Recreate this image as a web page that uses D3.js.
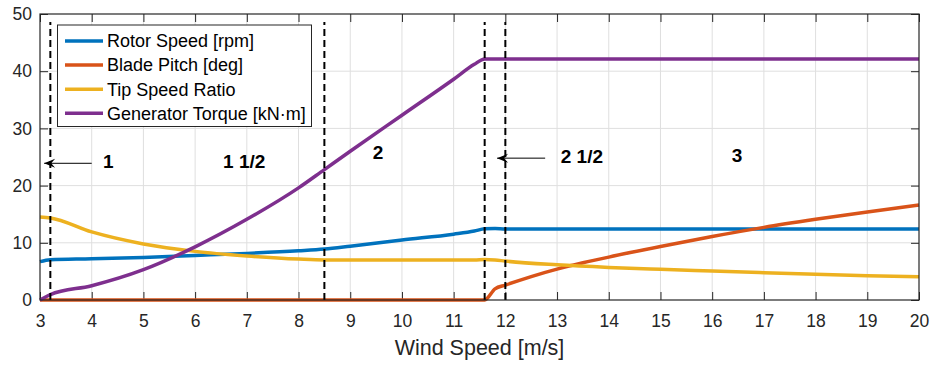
<!DOCTYPE html>
<html>
<head>
<meta charset="utf-8">
<script src="https://cdn.jsdelivr.net/npm/d3@7"></script>
<style>
  body { margin: 0; background: #fff; }
  svg { display: block; font-family: "Liberation Sans", Arial, sans-serif; }
</style>
</head>
<body>
<div id="chart"></div>
<script>
// data
const rotorX = [3, 3.2, 4, 5, 6, 7, 8, 8.5, 9, 10, 11, 11.4, 11.6, 11.8, 12, 13, 20];
const rotorY = [6.7, 7.05, 7.2, 7.45, 7.8, 8.15, 8.6, 8.9, 9.4, 10.5, 11.5, 12.05, 12.45, 12.5, 12.4, 12.4, 12.4];

const pitchX = [3, 11.6, 11.8, 12, 12.5, 13, 13.5, 14, 15, 16, 17, 18, 19, 20];
const pitchY = [0, 0, 1.95, 2.6, 4.1, 5.4, 6.5, 7.5, 9.35, 11.1, 12.7, 14.1, 15.4, 16.6];

const tsrX = [3, 3.2, 4, 5, 6, 7, 8, 8.5, 11.4, 11.6, 11.8, 12, 13, 14, 15, 16, 17, 18, 19, 20];
const tsrY = [14.5, 14.35, 11.9, 9.8, 8.5, 7.7, 7.15, 7.0, 7.0, 7.1, 7.0, 6.8, 6.15, 5.7, 5.36, 5.07, 4.78, 4.49, 4.25, 4.08];

const torqueX = [3, 3.2, 4, 5, 6, 7, 8, 8.5, 9, 10, 11, 11.4, 11.6, 20];
const torqueY = [0, 0.95, 2.5, 5.3, 9.3, 14.1, 19.6, 22.8, 26.0, 32.3, 38.6, 41.2, 42.15, 42.15];

const seriesNames = ['Rotor Speed [rpm]', 'Blade Pitch [deg]', 'Tip Speed Ratio', 'Generator Torque [kN\u00b7m]'];
const seriesColors = ['#0072BD', '#D95319', '#EDB120', '#7E2F8E'];

const xTicks = d3.range(3, 21);
const yTicks = [0, 10, 20, 30, 40, 50];

// region boundaries and labels
const regionLines = [3.2, 8.5, 11.6, 12.0];
const regionLabels = [
  { text: '1', x: 4.32, y: 23.1 },
  { text: '1 1/2', x: 6.95, y: 23.1 },
  { text: '2', x: 9.54, y: 24.65 },
  { text: '2 1/2', x: 13.48, y: 23.95 },
  { text: '3', x: 16.48, y: 24.1 }
];
const arrows = [
  { x1: 4.0, x2: 3.08, y: 23.9 },
  { x1: 12.77, x2: 11.84, y: 24.8 }
];

const width = 932, height = 365;
const margin = { left: 40, right: 13, top: 14, bottom: 65 };

const svg = d3.select('#chart')
  .append('svg')
  .attr('width', width)
  .attr('height', height);

const x = d3.scaleLinear().domain([3, 20]).range([margin.left, width - margin.right]);
const y = d3.scaleLinear().domain([0, 50]).range([height - margin.bottom, margin.top]);

// 网格
const grid = svg.append('g').attr('class', 'grid');
grid.selectAll('.gx')
  .data(xTicks.slice(1, -1))
  .enter()
  .append('line')
  .attr('x1', d => x(d)).attr('x2', d => x(d))
  .attr('y1', y(0)).attr('y2', y(50))
  .attr('stroke', '#dfdfdf')
  .attr('stroke-width', 1);
grid.selectAll('.gy')
  .data(yTicks.slice(1, -1))
  .enter()
  .append('line')
  .attr('x1', x(3)).attr('x2', x(20))
  .attr('y1', d => y(d)).attr('y2', d => y(d))
  .attr('stroke', '#dfdfdf')
  .attr('stroke-width', 1);

// axes with inward ticks
const styleAxis = g => {
  g.select('.domain').remove();
  g.attr('font-family', '"Liberation Sans", Arial, sans-serif')
    .attr('font-size', 17.5);
  g.selectAll('.tick line').attr('stroke', '#262626');
  g.selectAll('.tick text').attr('fill', '#262626');
};

svg.append('g')
  .attr('transform', `translate(0,${y(0)})`)
  .call(d3.axisBottom(x).tickValues(xTicks).tickSize(-8).tickPadding(15).tickFormat(d3.format('d')))
  .call(styleAxis);
svg.append('g')
  .attr('transform', `translate(0,${y(50)})`)
  .call(d3.axisTop(x).tickValues(xTicks).tickSize(-8).tickFormat(''))
  .call(styleAxis);
svg.append('g')
  .attr('transform', `translate(${x(3)},0)`)
  .call(d3.axisLeft(y).tickValues(yTicks).tickSize(-8).tickPadding(8))
  .call(styleAxis);
svg.append('g')
  .attr('transform', `translate(${x(20)},0)`)
  .call(d3.axisRight(y).tickValues(yTicks).tickSize(-8).tickFormat(''))
  .call(styleAxis);

// series lines
const allSeries = [
  rotorX.map((d, i) => [d, rotorY[i]]),
  pitchX.map((d, i) => [d, pitchY[i]]),
  tsrX.map((d, i) => [d, tsrY[i]]),
  torqueX.map((d, i) => [d, torqueY[i]])
];

const line = d3.line()
  .x(d => x(d[0]))
  .y(d => y(d[1]))
  .curve(d3.curveMonotoneX);

svg.append('g')
  .attr('class', 'series')
  .selectAll('path')
  .data(allSeries)
  .enter()
  .append('path')
  .attr('d', line)
  .attr('fill', 'none')
  .attr('stroke', (d, i) => seriesColors[i])
  .attr('stroke-width', 3.5)
  .attr('stroke-linejoin', 'round');

// dashed region boundaries
svg.append('g')
  .selectAll('line')
  .data(regionLines)
  .enter()
  .append('line')
  .attr('x1', d => x(d)).attr('x2', d => x(d))
  .attr('y1', y(0)).attr('y2', y(48.6))
  .attr('stroke', '#000')
  .attr('stroke-width', 2)
  .attr('stroke-dasharray', '7,4');

// arrow marker
svg.append('defs')
  .append('marker')
  .attr('id', 'arrowhead')
  .attr('markerUnits', 'userSpaceOnUse')
  .attr('viewBox', '-12 -6 14 12')
  .attr('markerWidth', 14)
  .attr('markerHeight', 12)
  .attr('refX', 0)
  .attr('refY', 0)
  .attr('orient', 'auto')
  .append('path')
  .attr('d', 'M0,0 L-11,-4.5 L-7,0 L-11,4.5 Z')
  .attr('fill', '#000');

svg.append('g')
  .selectAll('line')
  .data(arrows)
  .enter()
  .append('line')
  .attr('x1', d => x(d.x1)).attr('x2', d => x(d.x2))
  .attr('y1', d => y(d.y)).attr('y2', d => y(d.y))
  .attr('stroke', '#000')
  .attr('stroke-width', 1)
  .attr('marker-end', 'url(#arrowhead)');

svg.append('g')
  .selectAll('text')
  .data(regionLabels)
  .enter()
  .append('text')
  .attr('x', d => x(d.x))
  .attr('y', d => y(d.y))
  .attr('text-anchor', 'middle')
  .attr('font-size', 19)
  .attr('font-weight', 'bold')
  .attr('fill', '#000')
  .text(d => d.text);

// plot box
svg.append('rect')
  .attr('x', x(3)).attr('y', y(50))
  .attr('width', x(20) - x(3))
  .attr('height', y(0) - y(50))
  .attr('fill', 'none')
  .attr('stroke', '#262626')
  .attr('stroke-width', 1.2);

// x label
svg.append('text')
  .attr('x', (x(3) + x(20)) / 2)
  .attr('y', 355)
  .attr('text-anchor', 'middle')
  .attr('font-size', 21.5)
  .attr('fill', '#262626')
  .text('Wind Speed [m/s]');

// legend
const legend = svg.append('g').attr('class', 'legend');
legend.append('rect')
  .attr('x', 57.5).attr('y', 25)
  .attr('width', 254).attr('height', 101.5)
  .attr('fill', '#fff')
  .attr('stroke', '#262626')
  .attr('stroke-width', 1);

const items = legend.selectAll('.item')
  .data(seriesNames)
  .enter()
  .append('g')
  .attr('transform', (d, i) => `translate(0,${41 + i * 24.1})`);
items.append('line')
  .attr('x1', 65).attr('x2', 103)
  .attr('y1', 0).attr('y2', 0)
  .attr('stroke', (d, i) => seriesColors[i])
  .attr('stroke-width', 3.5);
items.append('text')
  .attr('x', 107)
  .attr('y', 0)
  .attr('dy', '0.35em')
  .attr('font-size', 18)
  .attr('fill', '#000')
  .text(d => d);
</script>
</body>
</html>
